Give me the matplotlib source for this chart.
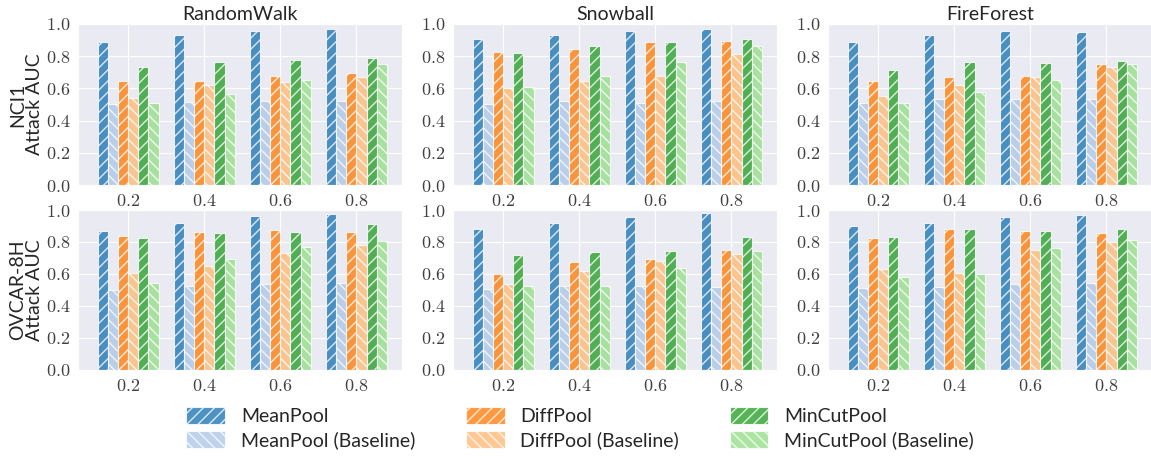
import numpy as np
import matplotlib
matplotlib.use("Agg")
import matplotlib.pyplot as plt
import seaborn as sns

sns.set_style("darkgrid")
plt.rcParams["font.family"] = ["Lato", "DejaVu Sans"]
plt.rcParams["mathtext.fontset"] = "cm"

ratios = ["0.2", "0.4", "0.6", "0.8"]
methods = ["RandomWalk", "Snowball", "FireForest"]
datasets = ["NCI1", "OVCAR-8H"]
models = ["MeanPool", "MeanPool (Baseline)", "DiffPool", "DiffPool (Baseline)",
          "MinCutPool", "MinCutPool (Baseline)"]
colors = ["#1f77b4", "#aec7e8", "#ff7f0e", "#ffbb78", "#2ca02c", "#98df8a"]

# rows: ratio 0.2..0.8, cols: the six models above
nci1_randomwalk = [[0.886, 0.505, 0.646, 0.542, 0.731, 0.511],
                   [0.932, 0.518, 0.646, 0.619, 0.764, 0.565],
                   [0.954, 0.522, 0.677, 0.638, 0.778, 0.652],
                   [0.967, 0.524, 0.694, 0.673, 0.787, 0.749]]
nci1_snowball = [[0.907, 0.501, 0.824, 0.602, 0.818, 0.611],
                 [0.932, 0.524, 0.843, 0.644, 0.863, 0.679],
                 [0.954, 0.511, 0.886, 0.679, 0.886, 0.766],
                 [0.971, 0.522, 0.892, 0.812, 0.909, 0.865]]
nci1_fireforest = [[0.886, 0.511, 0.646, 0.555, 0.714, 0.511],
                   [0.932, 0.532, 0.669, 0.623, 0.764, 0.578],
                   [0.954, 0.532, 0.677, 0.673, 0.760, 0.654],
                   [0.948, 0.532, 0.749, 0.735, 0.768, 0.754]]
ovcar_randomwalk = [[0.871, 0.501, 0.838, 0.609, 0.823, 0.545],
                    [0.921, 0.526, 0.863, 0.651, 0.857, 0.696],
                    [0.963, 0.536, 0.877, 0.732, 0.865, 0.767],
                    [0.975, 0.543, 0.865, 0.782, 0.911, 0.805]]
ovcar_snowball = [[0.884, 0.509, 0.597, 0.536, 0.721, 0.522],
                  [0.921, 0.522, 0.672, 0.620, 0.738, 0.528],
                  [0.958, 0.526, 0.696, 0.682, 0.744, 0.638],
                  [0.981, 0.520, 0.753, 0.726, 0.832, 0.744]]
ovcar_fireforest = [[0.900, 0.511, 0.825, 0.630, 0.832, 0.580],
                    [0.921, 0.520, 0.881, 0.605, 0.884, 0.601],
                    [0.958, 0.536, 0.869, 0.753, 0.869, 0.761],
                    [0.967, 0.543, 0.859, 0.802, 0.881, 0.813]]

all_data = [[nci1_randomwalk, nci1_snowball, nci1_fireforest],
            [ovcar_randomwalk, ovcar_snowball, ovcar_fireforest]]

fig = plt.figure(figsize=(11.51, 4.58), dpi=100)
W, H = 1151.0, 458.0
lefts = [78, 453, 828]
rows = [(24, 185), (210, 370)]
pw = 324

x = np.arange(len(ratios))
bw = 0.8 / len(models)
handles = []
for r, (top, bot) in enumerate(rows):
    for c, left in enumerate(lefts):
        ax = fig.add_axes([left / W, 1 - bot / H, pw / W, (bot - top) / H])
        vals = np.array(all_data[r][c])
        for k, m in enumerate(models):
            hatch = "///" if k % 2 == 0 else "\\\\\\"
            b = ax.bar(x - 0.4 + bw * (k + 0.5), vals[:, k], width=bw,
                       color=colors[k], alpha=0.8, hatch=hatch,
                       edgecolor="white", linewidth=0.8, label=m, zorder=2)
            if r == 0 and c == 0:
                handles.append(b)
        ax.set_xlim(-0.66, 3.6)
        ax.set_ylim(0, 1)
        ax.set_xticks(x)
        ax.set_xticklabels(["$%s$" % t for t in ratios], fontsize=13)
        ax.set_yticks(np.arange(0, 1.01, 0.2))
        ax.set_yticklabels(["$%.1f$" % v for v in np.arange(0, 1.01, 0.2)], fontsize=13)
        ax.tick_params(axis="both", pad=2, colors=".25")
        if r == 0:
            ax.set_title(methods[c], fontsize=14, pad=3, color=".15")
        if c == 0:
            ax.set_ylabel(datasets[r] + "\nAttack AUC", fontsize=14, labelpad=2,
                          linespacing=1.0, color=".15")

fig.legend(handles, models, loc="upper center", bbox_to_anchor=(0.504, 0.15),
           ncol=3, frameon=False, fontsize=14, handlelength=2.0, handleheight=1.0,
           handletextpad=0.8, columnspacing=2.6, labelspacing=0.3)

plt.savefig("out.png", dpi=100)
plt.close()
